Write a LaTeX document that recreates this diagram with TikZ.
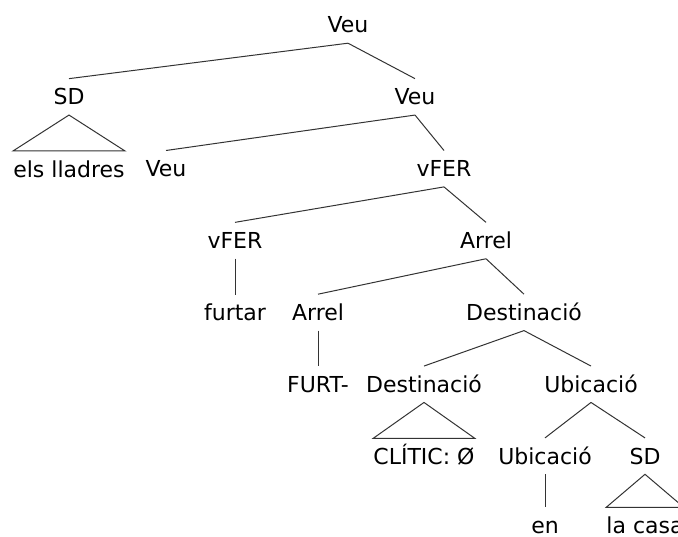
\documentclass[tikz,border=0pt]{standalone}
\usepackage{fontspec}
\setmainfont{DejaVu Sans}
\usetikzlibrary{positioning}

\begin{document}
\begin{tikzpicture}[
  x=1pt, y=-1pt,
  node distance=35.85pt,
  every node/.style={font=\fontsize{22}{26}\selectfont},
  cat/.style={inner sep=0pt, minimum height=36pt, text height=16pt, text depth=0pt},
  branch/.style={line width=1pt, black!80}
]
\useasboundingbox (0,0) rectangle (678,537);
\clip (0,0) rectangle (678,537);

\node[cat] (veu1) at (348,25) {Veu};
\node[cat] (sd1) at (69,96.85) {SD};
\node[cat] (veu2) at (415,96.85) {Veu};
\node[cat, below=of sd1] (lladres) {els lladres};
\node[cat] (veu3) at (166,168.7) {Veu};
\node[cat] (vfer1) at (444,168.7) {vFER};
\node[cat] (vfer2) at (235,240.55) {vFER};
\node[cat] (arrel1) at (486,240.55) {Arrel};
\node[cat, below=of vfer2] (furtar) {furtar};
\node[cat] (arrel2) at (318,312.4) {Arrel};
\node[cat] (dest1) at (524,312.4) {Destinació};
\node[cat, below=of arrel2] (furt) {FURT-};
\node[cat] (dest2) at (424,384.25) {Destinació};
\node[cat] (ubic1) at (591,384.25) {Ubicació};
\node[cat, below=of dest2] (clitic) {CLÍTIC: Ø};
\node[cat] (ubic2) at (545,456.1) {Ubicació};
\node[cat] (sd2) at (645,456.1) {SD};
\node[cat, below=33pt of ubic2] (en) {en};
\node[cat, below=33pt of sd2] (casa) {la casa};

% Branches
\draw[branch] (veu1.south) -- (sd1.north);
\draw[branch] (veu1.south) -- (veu2.north);
\draw[branch] (veu2.south) -- (veu3.north);
\draw[branch] (veu2.south) -- (vfer1.north);
\draw[branch] (vfer1.south) -- (vfer2.north);
\draw[branch] (vfer1.south) -- (arrel1.north);
\draw[branch] (vfer2.south) -- (furtar.north);
\draw[branch] (arrel1.south) -- (arrel2.north);
\draw[branch] (arrel1.south) -- (dest1.north);
\draw[branch] (arrel2.south) -- (furt.north);
\draw[branch] (dest1.south) -- (dest2.north);
\draw[branch] (dest1.south) -- (ubic1.north);
\draw[branch] (ubic1.south) -- (ubic2.north);
\draw[branch] (ubic1.south) -- (sd2.north);
\draw[branch] (ubic2.south) -- (en.north);

% Roofs
\draw[branch] (sd1.south) -- (lladres.north west) -- (lladres.north east) -- cycle;
\draw[branch] (dest2.south) -- (clitic.north west) -- (clitic.north east) -- cycle;
\draw[branch] (sd2.south) -- (casa.north west) -- (casa.north east) -- cycle;

\end{tikzpicture}
\end{document}
